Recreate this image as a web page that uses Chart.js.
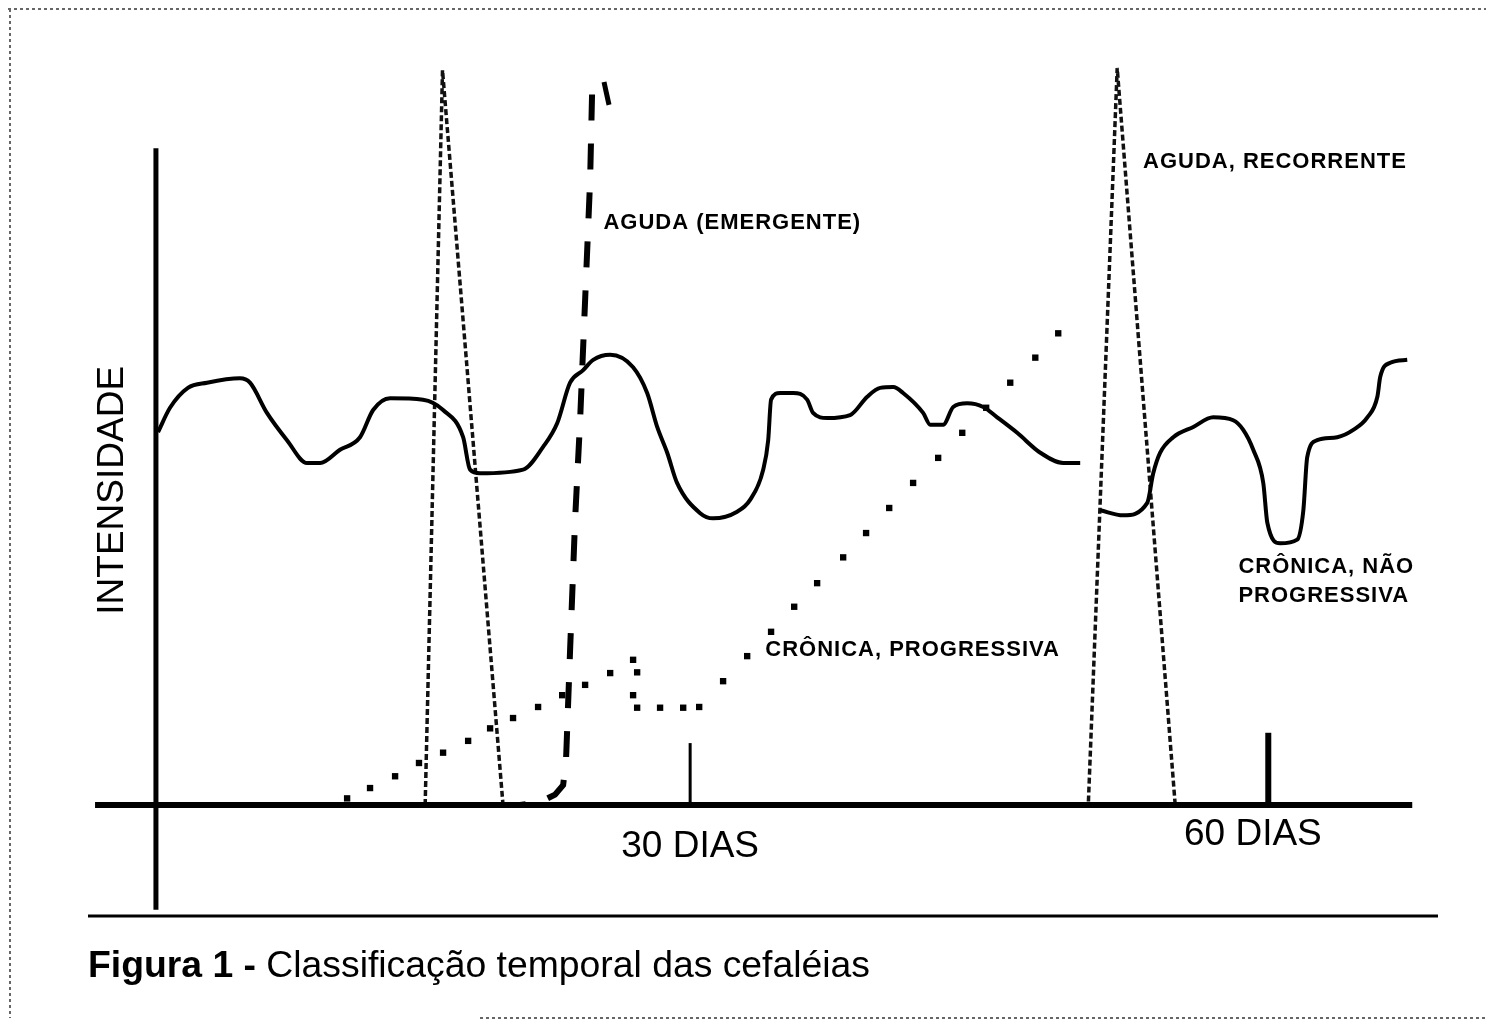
<!DOCTYPE html>
<html lang="pt">
<head>
<meta charset="UTF-8" />
<title>Figura 1 - Classificação temporal das cefaléias</title>
<script src="https://cdn.jsdelivr.net/npm/chart.js"></script>
<style>
  html, body { margin: 0; padding: 0; background: #fff; }
  #wrap { position: relative; width: 1488px; height: 1021px; }
</style>
</head>
<body>
<div id="wrap"><canvas id="chart"></canvas></div>
<script>
// eixo x = dias, eixo y = intensidade (0 a 100)

// crônica, não progressiva (linha contínua) - null separa os dois trechos
const naoProgDias = [2.39, 3.01, 3.94, 4.93, 6.64, 7.16, 8.04, 9.08, 10.12, 10.80, 11.83, 12.87, 13.55, 14.43,
  16.14, 17.18, 18.22, 18.58, 19.10, 21.33, 22.37, 23.10, 23.77, 24.45, 24.97, 25.85, 27.04, 27.77, 28.29,
  28.81, 29.32, 30.52, 31.19, 32.44, 33.11, 33.79, 34.05, 34.20, 34.67, 35.35, 36.07, 36.38, 37.11, 38.30,
  39.19, 39.86, 40.54, 41.05, 42.09, 42.46, 43.13, 43.65, 44.38, 45.21, 45.93, 46.97, 48.17, 49.36, 50.24,
  50.7,
  51.28, 52.47, 53.72, 54.03, 54.39, 55.07, 56.11, 57.14, 58.18, 58.70, 59.22, 59.74, 59.95, 60.62, 61.50,
  61.82, 62.02, 62.54, 63.58, 64.41, 65.14, 65.66, 65.81, 66.33, 67.21];
const naoProgInt = [50.6, 53.9, 56.6, 57.3, 57.9, 57.3, 53.2, 49.5, 46.4, 46.4, 48.2, 49.9, 53.6, 55.2,
  55.0, 53.6, 49.9, 45.5, 45.0, 45.5, 48.6, 51.8, 57.3, 59.0, 60.4, 61.1, 59.4, 55.9, 51.3,
  47.8, 43.7, 39.6, 38.9, 39.8, 41.4, 45.5, 49.5, 55.0, 55.9, 55.9, 55.0, 53.2, 52.5, 52.9,
  55.4, 56.6, 56.7, 55.9, 53.2, 51.6, 51.6, 54.0, 54.5, 54.0, 52.6, 50.5, 47.8, 46.4, 46.4,
  null,
  40.0, 39.3, 41.0, 45.0, 47.8, 49.9, 51.3, 52.6, 52.2, 50.9, 48.2, 43.7, 38.3, 35.5, 36.0,
  40.0, 47.2, 49.5, 49.9, 50.9, 52.6, 55.4, 58.1, 60.0, 60.4];

// aguda, recorrente (tracejado fino)
const recorrenteDias = [16.25, 17.15, 20.29, 50.66, 52.16, 55.17];
const recorrenteInt = [0, 99.7, 0, 0, 100, 0];

// aguda (emergente) (tracejado grosso), do topo para a base
const emergenteDias = [24.91, 24.81, 24.55, 24.29, 24.03, 23.77, 23.56, 23.41, 22.99, 22.21, 21.18];
const emergenteInt = [96.4, 84.8, 68.5, 52.2, 38.7, 21.0, 6.1, 2.7, 1.4, 0.4, 0];
// pequeno gancho no topo da curva emergente
const ganchoDias = [25.53, 25.79];
const ganchoInt = [98.1, 95.0];

// crônica, progressiva (pontilhado)
const progDias = [12.20, 13.39, 14.69, 15.93, 17.18, 18.48, 19.62, 20.81, 22.11, 23.36, 24.55, 25.85, 27.04,
  27.25, 27.04, 27.25, 28.44, 29.64, 30.47, 31.71, 32.96, 34.20, 35.40, 36.59, 37.94, 39.13, 40.33, 41.57,
  42.87, 44.12, 45.36, 46.61, 47.91, 49.10];
const progInt = [0.9, 2.3, 3.9, 5.7, 7.1, 8.7, 10.4, 11.8, 13.3, 14.9, 16.3, 17.9, 19.7,
  18.0, 14.9, 13.2, 13.2, 13.2, 13.3, 16.8, 20.2, 23.5, 26.9, 30.1, 33.6, 36.9, 40.3, 43.7,
  47.1, 50.5, 53.9, 57.3, 60.7, 64.0];

// eixos e marcas de 30 / 60 dias
const eixoXDias = [-0.88, 67.47];
const eixoYDias = 2.28;
const eixoYInt = [-14.2, 89.1];
const marcaDias = [30, 60];
const marcaAltura = [8.4, 9.8];
const marcaTexto = ['30 DIAS', '60 DIAS'];
const marcaTextoDia = [30, 59.2];
const marcaTextoInt = [-5.7, -4.1];

// rótulos das curvas
const rotulos = ['AGUDA (EMERGENTE)', 'AGUDA, RECORRENTE', 'CRÔNICA, PROGRESSIVA', 'CRÔNICA, NÃO', 'PROGRESSIVA'];
const rotulosDia = [25.5, 53.5, 33.9, 58.45, 58.45];
const rotulosInt = [79.0, 87.2, 21.0, 32.3, 28.4];

const pts = (xs, ys) => xs.map((x, i) => ({ x: x, y: ys[i] }));

const textos = {
  id: 'textos',
  afterDatasetsDraw(chart) {
    const ctx = chart.ctx;
    const sx = chart.scales.x, sy = chart.scales.y;
    ctx.save();
    ctx.fillStyle = '#000';
    ctx.textBaseline = 'middle';

    // rótulos das curvas
    ctx.font = 'bold 22px "Liberation Sans", Arial, sans-serif';
    ctx.letterSpacing = '1px';
    ctx.textAlign = 'left';
    rotulos.forEach((t, i) => {
      ctx.fillText(t, sx.getPixelForValue(rotulosDia[i]), sy.getPixelForValue(rotulosInt[i]));
    });
    ctx.letterSpacing = '0px';

    // 30 DIAS / 60 DIAS
    ctx.font = '37px "Liberation Sans", Arial, sans-serif';
    ctx.textAlign = 'center';
    marcaTexto.forEach((t, i) => {
      ctx.fillText(t, sx.getPixelForValue(marcaTextoDia[i]), sy.getPixelForValue(marcaTextoInt[i]));
    });

    // título do eixo y
    ctx.translate(sx.getPixelForValue(0.05), sy.getPixelForValue(42.7));
    ctx.rotate(-Math.PI / 2);
    ctx.fillText('INTENSIDADE', 0, 0);
    ctx.restore();
  },
  afterDraw(chart) {
    const ctx = chart.ctx;
    ctx.save();
    // moldura pontilhada
    ctx.strokeStyle = '#666';
    ctx.lineWidth = 2;
    ctx.setLineDash([3, 3]);
    ctx.beginPath();
    ctx.moveTo(8, 9); ctx.lineTo(1486, 9);
    ctx.moveTo(10, 9); ctx.lineTo(10, 1018);
    ctx.moveTo(480, 1018); ctx.lineTo(1488, 1018);
    ctx.stroke();
    ctx.setLineDash([]);

    // linha acima da legenda
    ctx.strokeStyle = '#000';
    ctx.lineWidth = 3;
    ctx.beginPath();
    ctx.moveTo(88, 916); ctx.lineTo(1438, 916);
    ctx.stroke();

    // legenda da figura
    ctx.fillStyle = '#000';
    ctx.textBaseline = 'alphabetic';
    ctx.textAlign = 'left';
    const f = 36;
    ctx.font = 'bold ' + f + 'px "Liberation Sans", Arial, sans-serif';
    const a = 'Figura 1 - ';
    const wa = ctx.measureText(a).width;
    ctx.font = f + 'px "Liberation Sans", Arial, sans-serif';
    const b = 'Classificação temporal das cefaléias';
    const wb = ctx.measureText(b).width;
    const k = 782 / (wa + wb);
    ctx.translate(88, 977);
    ctx.scale(k, 1);
    ctx.font = 'bold ' + f + 'px "Liberation Sans", Arial, sans-serif';
    ctx.fillText(a, 0, 0);
    ctx.font = f + 'px "Liberation Sans", Arial, sans-serif';
    ctx.fillText(b, wa, 0);
    ctx.restore();
  }
};

const ctx = document.getElementById('chart').getContext('2d');
const chart = new Chart(ctx, {
  type: 'line',
  data: {
    datasets: [
      {
        label: 'eixo x',
        data: pts(eixoXDias, [0, 0]),
        borderColor: '#000', borderWidth: 6, pointRadius: 0, clip: false
      },
      {
        label: 'eixo y',
        data: pts([eixoYDias, eixoYDias], eixoYInt),
        borderColor: '#000', borderWidth: 5, pointRadius: 0, clip: false
      },
      {
        label: '30 dias',
        data: pts([marcaDias[0], marcaDias[0]], [0, marcaAltura[0]]),
        borderColor: '#000', borderWidth: 3, pointRadius: 0, clip: false
      },
      {
        label: '60 dias',
        data: pts([marcaDias[1], marcaDias[1]], [0, marcaAltura[1]]),
        borderColor: '#000', borderWidth: 6, pointRadius: 0, clip: false
      },
      {
        label: 'Crônica, não progressiva',
        data: pts(naoProgDias, naoProgInt),
        borderColor: '#000', borderWidth: 4, pointRadius: 0,
        cubicInterpolationMode: 'monotone', spanGaps: false, clip: false
      },
      {
        label: 'Aguda (emergente)',
        data: pts(emergenteDias, emergenteInt),
        borderColor: '#000', borderWidth: 6, borderDash: [26, 23], pointRadius: 0,
        tension: 0, clip: false
      },
      {
        label: 'Aguda (emergente) topo',
        data: pts(ganchoDias, ganchoInt),
        borderColor: '#000', borderWidth: 5, pointRadius: 0, tension: 0, clip: false
      },
      {
        label: 'Aguda, recorrente',
        data: pts(recorrenteDias, recorrenteInt),
        borderColor: '#111', borderWidth: 3.5, borderDash: [6, 3], pointRadius: 0,
        tension: 0, clip: false
      },
      {
        label: 'Crônica, progressiva',
        data: pts(progDias, progInt),
        showLine: false, pointStyle: 'rect', pointRadius: 4.5,
        pointBackgroundColor: '#000', pointBorderWidth: 0, clip: false
      }
    ]
  },
  options: {
    responsive: true,
    maintainAspectRatio: false,
    animation: false,
    layout: { padding: { left: 112, right: 27, top: 68, bottom: 216 } },
    plugins: { legend: { display: false }, tooltip: { enabled: false } },
    scales: {
      x: { type: 'linear', min: 0, max: 70, display: false },
      y: { type: 'linear', min: 0, max: 100, display: false }
    }
  },
  plugins: [textos]
});
</script>
</body>
</html>
